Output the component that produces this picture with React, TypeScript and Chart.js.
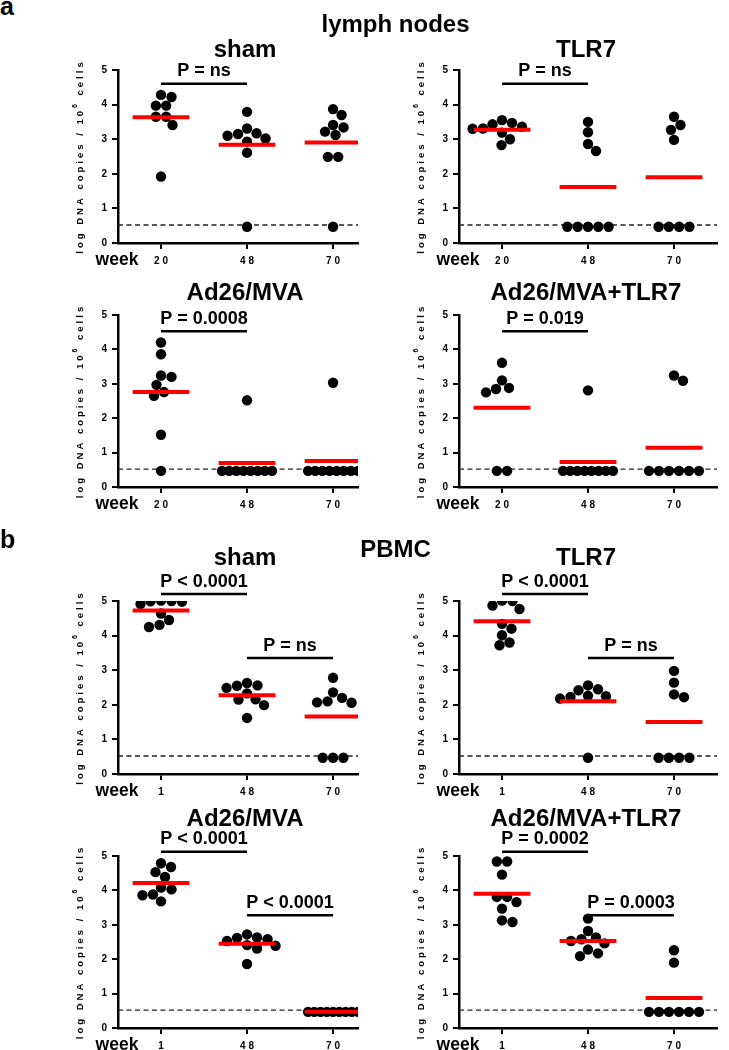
import React, { useEffect, useRef } from "react";
import { Chart, registerables } from "chart.js";

Chart.register(...registerables);

const FONT = "'Liberation Sans', Arial, Helvetica, sans-serif";

// ---------- axis labels ----------
const LN_WEEK_LABELS = ["2 0", "4 8", "7 0"];
const PBMC_WEEK_LABELS = ["1", "4 8", "7 0"];
const Y_MIN = 0;
const Y_MAX = 5;
const DETECTION_LIMIT = 0.52;

// ---------- lymph nodes (log DNA copies / 10^6 cells) ----------
const lnSham20 = [4.28, 4.22, 3.97, 3.97, 3.65, 3.65, 3.41, 1.92];
const lnSham48 = [3.79, 3.31, 3.17, 3.15, 3.1, 3.02, 2.93, 2.61, 0.47];
const lnSham70 = [3.87, 3.7, 3.41, 3.34, 3.22, 3.12, 2.49, 2.49, 0.47];
const lnTlr20 = [3.55, 3.47, 3.43, 3.36, 3.31, 3.3, 3.19, 3.0, 2.83];
const lnTlr48 = [3.5, 3.2, 2.86, 2.66, 0.47, 0.47, 0.47, 0.47, 0.47];
const lnTlr70 = [3.65, 3.41, 3.27, 2.98, 0.47, 0.47, 0.47, 0.47];
const lnAd20 = [4.2, 3.86, 3.24, 3.2, 2.97, 2.76, 2.65, 1.52, 0.47];
const lnAd48 = [2.52, 0.47, 0.47, 0.47, 0.47, 0.47, 0.47, 0.47, 0.47];
const lnAd70 = [3.03, 0.47, 0.47, 0.47, 0.47, 0.47, 0.47, 0.47, 0.47];
const lnAdTlr20 = [3.61, 3.1, 2.88, 2.85, 2.75, 0.47, 0.47];
const lnAdTlr48 = [2.81, 0.47, 0.47, 0.47, 0.47, 0.47, 0.47, 0.47, 0.47];
const lnAdTlr70 = [3.24, 3.09, 0.47, 0.47, 0.47, 0.47, 0.47, 0.47];

// ---------- PBMC ----------
const pbSham1 = [5.01, 5.0, 4.99, 4.98, 4.91, 4.64, 4.45, 4.31, 4.25];
const pbSham48 = [2.63, 2.56, 2.55, 2.49, 2.33, 2.16, 2.15, 1.99, 1.62];
const pbSham70 = [2.78, 2.36, 2.2, 2.1, 2.07, 2.06, 0.47, 0.47, 0.47];
const pbTlr1 = [5.01, 5.0, 4.87, 4.77, 4.34, 4.2, 4.01, 3.8, 3.72];
const pbTlr48 = [2.56, 2.45, 2.42, 2.26, 2.25, 2.23, 2.18, 0.47];
const pbTlr70 = [2.98, 2.64, 2.3, 2.22, 0.47, 0.47, 0.47, 0.47];
const pbAd1 = [4.79, 4.68, 4.53, 4.39, 4.08, 4.03, 3.88, 3.86, 3.68];
const pbAd48 = [2.72, 2.63, 2.62, 2.58, 2.53, 2.41, 2.39, 2.31, 1.86];
const pbAd70 = [0.47, 0.47, 0.47, 0.47, 0.47, 0.47, 0.47, 0.47, 0.47];
const pbAdTlr1 = [4.84, 4.84, 4.46, 3.81, 3.81, 3.66, 3.47, 3.13, 3.08];
const pbAdTlr48 = [3.18, 2.82, 2.63, 2.58, 2.53, 2.46, 2.28, 2.17, 2.09];
const pbAdTlr70 = [2.26, 1.9, 0.47, 0.47, 0.47, 0.47, 0.47, 0.47];

// ---------- titles and statistics ----------
const GROUP_TITLES = ["sham", "TLR7", "Ad26/MVA", "Ad26/MVA+TLR7"];
const LN_P = ["P = ns", "P = ns", "P = 0.0008", "P = 0.019"];
const PBMC_P_EARLY = ["P < 0.0001", "P < 0.0001", "P < 0.0001", "P = 0.0002"];
const PBMC_P_LATE = ["P = ns", "P = ns", "P < 0.0001", "P = 0.0003"];

// ---------- layout ----------
const RED = "#ff0000";
const MEAN_HALF = 0.33;
const PX_PER_X = 86;
const PX_PER_Y = 34.5;
const DOT_GAP = 10.3;
const ROW_SPAN = 50;

type Comp = { from: number; to: number; level: number; label: string };
type Row = { top: number; height: number; areaTop: number; areaBottom: number; titleGap: number };
type Col = { left: number; width: number; areaLeft: number; areaRight: number; xMax: number };
type Panel = { row: Row; col: Col; groups: number[][]; weeks: string[]; title: string; comps: Comp[] };

const ROWS: Row[] = [
  { top: 28, height: 246, areaTop: 42, areaBottom: 215, titleGap: 13 },
  { top: 274, height: 246, areaTop: 41, areaBottom: 213, titleGap: 15 },
  { top: 535, height: 268, areaTop: 66, areaBottom: 239, titleGap: 36 },
  { top: 803, height: 247, areaTop: 53, areaBottom: 225, titleGap: 30 },
];
const COLS: Col[] = [
  { left: 0, width: 364, areaLeft: 118, areaRight: 358, xMax: 3.29 },
  { left: 364, width: 365, areaLeft: 95, areaRight: 353, xMax: 3.5 },
];

const PANELS: Panel[] = [
  { row: ROWS[0], col: COLS[0], groups: [lnSham20, lnSham48, lnSham70], weeks: LN_WEEK_LABELS, title: GROUP_TITLES[0], comps: [{ from: 1, to: 2, level: 4.6, label: LN_P[0] }] },
  { row: ROWS[0], col: COLS[1], groups: [lnTlr20, lnTlr48, lnTlr70], weeks: LN_WEEK_LABELS, title: GROUP_TITLES[1], comps: [{ from: 1, to: 2, level: 4.6, label: LN_P[1] }] },
  { row: ROWS[1], col: COLS[0], groups: [lnAd20, lnAd48, lnAd70], weeks: LN_WEEK_LABELS, title: GROUP_TITLES[2], comps: [{ from: 1, to: 2, level: 4.53, label: LN_P[2] }] },
  { row: ROWS[1], col: COLS[1], groups: [lnAdTlr20, lnAdTlr48, lnAdTlr70], weeks: LN_WEEK_LABELS, title: GROUP_TITLES[3], comps: [{ from: 1, to: 2, level: 4.53, label: LN_P[3] }] },
  { row: ROWS[2], col: COLS[0], groups: [pbSham1, pbSham48, pbSham70], weeks: PBMC_WEEK_LABELS, title: GROUP_TITLES[0], comps: [{ from: 1, to: 2, level: 5.2, label: PBMC_P_EARLY[0] }, { from: 2, to: 3, level: 3.35, label: PBMC_P_LATE[0] }] },
  { row: ROWS[2], col: COLS[1], groups: [pbTlr1, pbTlr48, pbTlr70], weeks: PBMC_WEEK_LABELS, title: GROUP_TITLES[1], comps: [{ from: 1, to: 2, level: 5.2, label: PBMC_P_EARLY[1] }, { from: 2, to: 3, level: 3.35, label: PBMC_P_LATE[1] }] },
  { row: ROWS[3], col: COLS[0], groups: [pbAd1, pbAd48, pbAd70], weeks: PBMC_WEEK_LABELS, title: GROUP_TITLES[2], comps: [{ from: 1, to: 2, level: 5.12, label: PBMC_P_EARLY[2] }, { from: 2, to: 3, level: 3.28, label: PBMC_P_LATE[2] }] },
  { row: ROWS[3], col: COLS[1], groups: [pbAdTlr1, pbAdTlr48, pbAdTlr70], weeks: PBMC_WEEK_LABELS, title: GROUP_TITLES[3], comps: [{ from: 1, to: 2, level: 5.12, label: PBMC_P_EARLY[3] }, { from: 2, to: 3, level: 3.28, label: PBMC_P_LATE[3] }] },
];

function mean(v: number[]): number {
  return v.reduce((s, a) => s + a, 0) / v.length;
}

// simple beeswarm: spreads dots sideways so they do not overlap
function swarmOffsets(vals: number[]): number[] {
  const idx = vals.map((_, i) => i).sort((a, b) => vals[b] - vals[a]);
  const off = new Array(vals.length).fill(0);
  const placed: { x: number; y: number }[] = [];
  let k = 0;
  while (k < idx.length) {
    let m = k;
    while (m + 1 < idx.length && vals[idx[m + 1]] === vals[idx[k]]) m++;
    const n = m - k + 1;
    if (n > 1) {
      const sp = Math.min(DOT_GAP, ROW_SPAN / (n - 1));
      for (let t = 0; t < n; t++) {
        const xo = (t - (n - 1) / 2) * sp;
        off[idx[k + t]] = xo;
        placed.push({ x: xo, y: vals[idx[k + t]] * PX_PER_Y });
      }
    } else {
      const y = vals[idx[k]] * PX_PER_Y;
      let chosen = 0;
      for (let s = 0; s < 400; s++) {
        const c = s === 0 ? 0 : (s % 2 === 1 ? 1 : -1) * Math.ceil(s / 2) * 0.5;
        if (placed.every((p) => Math.hypot(p.x - c, p.y - y) >= DOT_GAP)) {
          chosen = c;
          break;
        }
      }
      off[idx[k]] = chosen;
      placed.push({ x: chosen, y });
    }
    k = m + 1;
  }
  return off.map((o) => o / PX_PER_X);
}

const decorPlugin = {
  id: "decor",
  afterDraw(chart: any, _args: any, opts: any) {
    const p: Panel = opts.panel;
    const { ctx, chartArea: a, scales } = chart;
    const x = scales.x;
    const y = scales.y;
    ctx.save();
    ctx.fillStyle = "#000";
    ctx.textAlign = "center";
    ctx.textBaseline = "alphabetic";
    // title
    ctx.font = `bold 24px ${FONT}`;
    ctx.fillText(p.title, x.getPixelForValue(2) - 2, a.top - p.row.titleGap);
    // P values
    ctx.font = `bold 18px ${FONT}`;
    for (const c of p.comps) {
      const yy = y.getPixelForValue(c.level);
      ctx.fillText(c.label, (x.getPixelForValue(c.from) + x.getPixelForValue(c.to)) / 2, yy - 7.5);
    }
    // "week"
    ctx.font = `bold 17.5px ${FONT}`;
    ctx.fillText("week", a.left - 1, a.bottom + 21.5);
    // y-axis label with superscript
    ctx.translate(a.left - 38, (a.top + a.bottom) / 2);
    ctx.rotate(-Math.PI / 2);
    ctx.textAlign = "left";
    ctx.textBaseline = "middle";
    (ctx as any).letterSpacing = "3px";
    const big = `bold 9.5px ${FONT}`;
    const small = `bold 7px ${FONT}`;
    const s1 = "log DNA copies / 10";
    const s2 = "6";
    const s3 = " cells";
    ctx.font = big;
    const w1 = ctx.measureText(s1).width;
    const w3 = ctx.measureText(s3).width;
    ctx.font = small;
    const w2 = ctx.measureText(s2).width;
    let x0 = -(w1 + w2 + w3) / 2;
    ctx.font = big;
    ctx.fillText(s1, x0, 0);
    x0 += w1;
    ctx.font = small;
    ctx.fillText(s2, x0, -4.5);
    x0 += w2;
    ctx.font = big;
    ctx.fillText(s3, x0, 0);
    ctx.restore();
  },
};

function PanelChart({ panel }: { panel: Panel }) {
  const ref = useRef<HTMLCanvasElement | null>(null);
  useEffect(() => {
    if (!ref.current) return;
    const { row, col } = panel;
    const datasets: any[] = [];
    panel.groups.forEach((vals, gi) => {
      const m = mean(vals);
      datasets.push({
        data: [
          { x: gi + 1 - MEAN_HALF, y: m },
          { x: gi + 1 + MEAN_HALF, y: m },
        ],
        showLine: true,
        borderColor: RED,
        borderWidth: 4,
        borderCapStyle: "butt",
        pointRadius: 0,
        order: 0,
      });
    });
    panel.groups.forEach((vals, gi) => {
      const off = swarmOffsets(vals);
      datasets.push({
        data: vals.map((v, j) => ({ x: gi + 1 + off[j], y: v })),
        showLine: false,
        pointRadius: 5.2,
        pointBackgroundColor: "#000",
        pointBorderWidth: 0,
        order: 1,
      });
    });
    datasets.push({
      data: [
        { x: 0.5, y: DETECTION_LIMIT },
        { x: col.xMax, y: DETECTION_LIMIT },
      ],
      showLine: true,
      borderColor: "#222",
      borderWidth: 1.3,
      borderDash: [5, 3.5],
      pointRadius: 0,
      order: 2,
    });
    panel.comps.forEach((c) => {
      datasets.push({
        data: [
          { x: c.from, y: c.level },
          { x: c.to, y: c.level },
        ],
        showLine: true,
        borderColor: "#000",
        borderWidth: 2.5,
        borderCapStyle: "butt",
        pointRadius: 0,
        clip: false,
        order: 3,
      });
    });

    const tickFont = { family: FONT, size: 10, weight: "bold" as const };
    const chart = new Chart(ref.current, {
      type: "scatter",
      data: { datasets },
      plugins: [decorPlugin],
      options: {
        animation: false,
        responsive: false,
        events: [],
        layout: { padding: { top: row.areaTop, right: col.width - col.areaRight, left: 0, bottom: 0 } },
        plugins: {
          legend: { display: false },
          tooltip: { enabled: false },
          decor: { panel },
        } as any,
        scales: {
          x: {
            type: "linear",
            min: 0.5,
            max: col.xMax,
            afterBuildTicks: (s: any) => {
              s.ticks = [1, 2, 3].map((v) => ({ value: v }));
            },
            afterFit: (s: any) => {
              s.height = row.height - row.areaBottom;
            },
            ticks: {
              callback: (v: any) => panel.weeks[Math.round(Number(v)) - 1] ?? "",
              font: tickFont,
              color: "#000",
              padding: 6,
              maxRotation: 0,
              autoSkip: false,
            },
            grid: { drawOnChartArea: false, drawTicks: true, tickLength: 6, color: "#000", lineWidth: 2 },
            border: { display: true, color: "#000", width: 2.5 },
          },
          y: {
            type: "linear",
            min: Y_MIN,
            max: Y_MAX,
            afterFit: (s: any) => {
              s.width = col.areaLeft;
            },
            ticks: { stepSize: 1, font: tickFont, color: "#000", padding: 5 },
            grid: { drawOnChartArea: false, drawTicks: true, tickLength: 6, color: "#000", lineWidth: 2 },
            border: { display: true, color: "#000", width: 2.5 },
          },
        },
      } as any,
    });
    return () => chart.destroy();
  }, [panel]);

  return (
    <canvas
      ref={ref}
      width={panel.col.width}
      height={panel.row.height}
      style={{
        position: "absolute",
        left: panel.col.left,
        top: panel.row.top,
        width: panel.col.width,
        height: panel.row.height,
      }}
    />
  );
}

const headerStyle: React.CSSProperties = {
  position: "absolute",
  fontFamily: FONT,
  fontWeight: "bold",
  color: "#000",
  whiteSpace: "nowrap",
};

export default function App() {
  return (
    <div
      style={{
        position: "absolute",
        left: 0,
        top: 0,
        width: 729,
        height: 1050,
        background: "#fff",
        overflow: "hidden",
      }}
    >
      {PANELS.map((p, i) => (
        <PanelChart key={i} panel={p} />
      ))}
      <div style={{ ...headerStyle, left: 0, top: -6, fontSize: 25, lineHeight: "25px" }}>a</div>
      <div style={{ ...headerStyle, left: 0, width: 729, textAlign: "center", top: 12, fontSize: 24, lineHeight: "24px", transform: "translateX(31px)" }}>
        lymph nodes
      </div>
      <div style={{ ...headerStyle, left: 0, top: 527, fontSize: 25, lineHeight: "25px" }}>b</div>
      <div style={{ ...headerStyle, left: 0, width: 729, textAlign: "center", top: 537, fontSize: 24, lineHeight: "24px", transform: "translateX(31px)" }}>
        PBMC
      </div>
    </div>
  );
}
